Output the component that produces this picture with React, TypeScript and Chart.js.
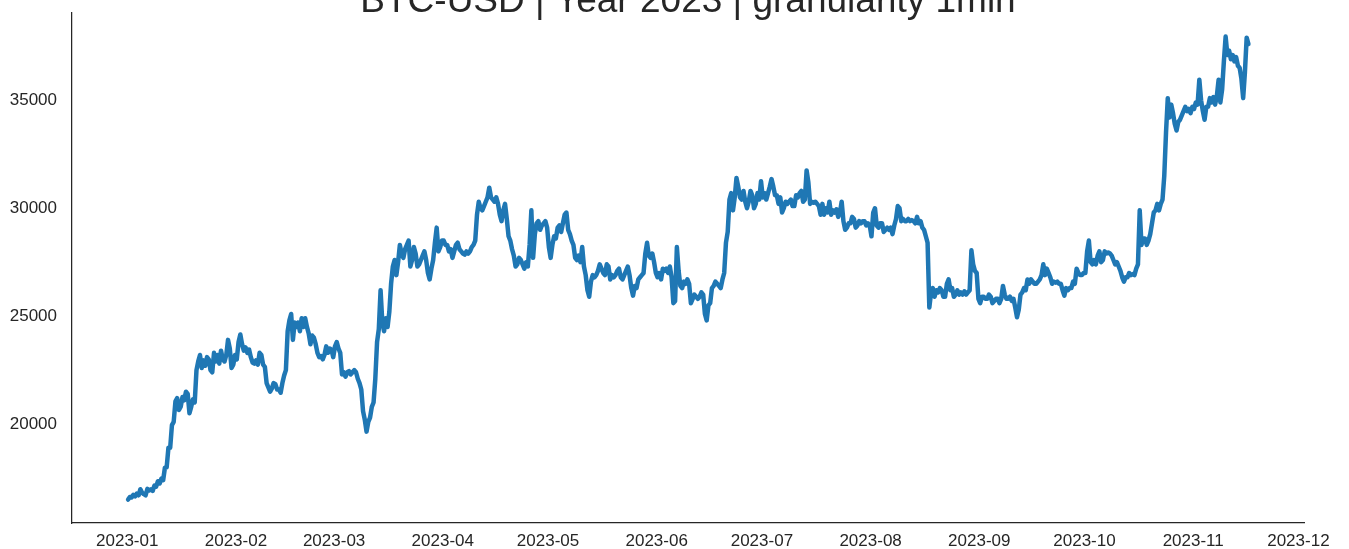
import React, { useEffect, useRef } from 'react';
import { Chart, registerables } from 'chart.js';

Chart.register(...registerables);

const TITLE = 'BTC-USD | Year 2023 | granularity 1min';
const monthLabels = ['2023-01', '2023-02', '2023-03', '2023-04', '2023-05', '2023-06', '2023-07', '2023-08', '2023-09', '2023-10', '2023-11', '2023-12'];
const monthStartDays = [0, 31, 59, 90, 120, 151, 181, 212, 243, 273, 304, 334];
const yTickValues = [20000, 25000, 30000, 35000];

// Daily pairs of prices (two readings per day), per month
const jan = [
  [16500, 16620], [16600, 16720], [16650, 16780], [16700, 16980], [16820, 16750], [16700, 17000], [16920, 16980], [16900, 17150],
  [17100, 17350], [17250, 17480], [17400, 17980], [18000, 18900], [18900, 19950], [20100, 21050], [21200, 20650], [20800, 21250],
  [21100, 21500], [21400, 20500], [20800, 21150], [21000, 22500], [22900, 23200], [22600, 22950], [22700, 23100], [23000, 22500],
  [22400, 23300], [22900, 23200], [22800, 23400], [23000, 22900], [23200, 23900], [23500, 22600], [22750, 23200],
];
const feb = [
  [23000, 23800], [24150, 23700], [23400, 23550], [23300, 23450], [23100, 22850], [22800, 22950], [22750, 23300], [23200, 22750],
  [22650, 21900], [21700, 21500], [21650, 21900], [21850, 21600], [21600, 21450], [21900, 22250], [22500, 24300], [24800, 25100],
  [23900, 24700], [24500, 24700], [24300, 24900], [24500, 24900], [24500, 24200], [23700, 24100], [24000, 23700], [23300, 23100],
  [23150, 23000], [23200, 23600], [23300, 23500], [23450, 23100],
];
const mar = [
  [23600, 23800], [23500, 23300], [22300, 22400], [22200, 22400], [22450, 22300], [22400, 22500], [22400, 22100], [21900, 21600],
  [20600, 20200], [19650, 20100], [20300, 20800], [21000, 22100], [23800, 24400], [26200, 24700], [24300, 24900], [24500, 25200],
  [26500, 27300], [27600, 26900], [27500, 28300], [27900, 27700], [28100, 28300], [28500, 27300], [27600, 28200], [27900, 27300],
  [27400, 27600], [27800, 28000], [27600, 27000], [26700, 27200], [27600, 28400], [29100, 28000], [28200, 28500],
];
const apr = [
  [28500, 28300], [28300, 28000], [28100, 27700], [28000, 28300], [28400, 28100], [28000, 27900], [27850, 28000], [27900, 28000],
  [28200, 28300], [28500, 29700], [30300, 30000], [29900, 30100], [30300, 30500], [30950, 30500], [30400, 30300], [30500, 30200],
  [29700, 29400], [29900, 30200], [29500, 28700], [28500, 28100], [27800, 27300], [27400, 27700], [27600, 27400], [27200, 27500],
  [27300, 28300], [29900, 27700], [28800, 29300], [29400, 29000], [29200, 29300], [29400, 29100],
];
const may = [
  [28200, 27700], [28300, 28700], [28600, 29100], [29200, 28900], [29300, 29700], [29800, 29000], [28800, 28500], [28300, 27700],
  [27600, 27800], [27500, 28200], [27300, 26900], [26200, 25900], [26600, 26900], [26800, 26900], [27100, 27400], [27200, 27000],
  [26900, 27400], [27300, 26700], [26900, 26800], [26900, 27100], [27200, 26800], [26700, 26900], [27100, 27300], [26900, 26300],
  [25950, 26400], [26300, 26700], [26800, 26900], [27000, 27900], [28400, 27800], [27700, 27900], [27500, 27000],
];
const jun = [
  [26800, 27000], [26700, 27200], [27100, 27200], [27000, 27300], [26800, 25600], [25700, 28200], [27100, 26400], [26300, 26600],
  [26500, 26700], [26500, 25600], [25800, 26000], [25900, 25800], [25900, 26100], [26000, 25100], [24800, 25500], [25600, 26300],
  [26400, 26600], [26500, 26400], [26300, 26700], [27000, 28400], [28900, 30400], [30700, 29900], [30500, 31400], [31000, 30500],
  [30400, 30800], [30300, 30000], [30300, 30800], [30600, 30000], [30200, 30700], [30400, 31250],
];
const jul = [
  [30500, 30700], [30400, 30700], [31000, 31350], [31000, 30600], [30600, 30200], [30500, 29800], [30000, 30300], [30200, 30300],
  [30400, 30100], [30100, 30600], [30500, 30700], [30800, 30300], [30400, 31750], [31200, 30200], [30300, 30250], [30300, 30200],
  [30100, 29700], [30200, 29700], [30000, 29800], [30300, 29700], [29900, 29800], [29950, 29600], [29800, 30300], [29400, 29000],
  [29100, 29300], [29300, 29600], [29500, 29100], [29200, 29400], [29300, 29400], [29400, 29200], [29300, 29200],
];
const aug = [
  [28700, 29800], [30000, 29200], [29100, 29300], [29300, 28900], [29000, 29100], [29000, 29100], [28800, 29200], [29500, 30100],
  [30000, 29400], [29500, 29400], [29400, 29500], [29400, 29450], [29400, 29300], [29600, 29300], [29400, 29100], [29000, 28700],
  [28400, 25400], [26100, 26300], [25900, 26200], [26100, 26300], [26200, 25900], [25900, 26500], [26700, 26200], [26300, 25900],
  [26000, 26200], [26000, 26100], [26000, 26150], [26000, 26100], [26200, 28050], [27400, 27100], [27000, 25800],
];
const sep = [
  [25600, 25900], [25900, 25800], [25800, 26000], [25900, 25600], [25700, 25800], [25800, 25600], [25800, 26400], [26000, 25800],
  [25800, 25900], [25700, 25800], [25400, 24950], [25300, 26000], [26100, 26300], [26200, 26700], [26500, 26700], [26600, 26500],
  [26500, 26600], [26700, 26900], [27400, 26900], [27200, 27000], [26800, 26500], [26600, 26550], [26600, 26500], [26500, 26200],
  [25950, 26300], [26200, 26300], [26300, 26600], [26500, 27200], [27000, 26900], [26900, 27000],
];
const oct = [
  [27000, 28000], [28500, 27500], [27400, 27600], [27400, 27800], [28000, 27500], [27600, 28000], [27900, 27950], [27900, 27800],
  [27600, 27400], [27500, 27300], [27100, 26800], [26600, 26800], [26800, 27000], [26900, 26950], [26900, 27200], [27400, 29900],
  [28300, 28600], [28600, 28300], [28500, 28800], [29300, 29800], [29900, 30200], [29900, 30200], [30400, 31500], [33500, 35100],
  [34200, 34800], [34400, 33900], [33600, 34000], [34100, 34300], [34500, 34700], [34500, 34600], [34400, 34700],
];
const nov = [
  [34600, 34900], [34800, 35950], [35000, 34500], [34100, 34700], [34700, 35100], [34900, 35150], [34800, 35200], [35950, 34900],
  [35500, 36800], [37950, 37100], [37300, 36900], [37100, 36800], [37000, 36600], [36500, 36000], [35100, 36300], [37900, 37600],
];
const monthsData = [jan, feb, mar, apr, may, jun, jul, aug, sep, oct, nov];

const X_MIN = -15.75;
const X_MAX = 335.6;
const Y_MIN = 15416;
const Y_MAX = 39044;

const TICK_FONT = { family: '"Liberation Sans", Arial, sans-serif', size: 17 };
const INK = '#262626';

function buildPoints() {
  const pts: { x: number; y: number }[] = [];
  monthsData.forEach((m, mi) => {
    m.forEach((pair, di) => {
      const d = monthStartDays[mi] + di;
      pts.push({ x: d + 0.25, y: pair[0] });
      pts.push({ x: d + 0.75, y: pair[1] });
    });
  });
  return pts;
}

const titlePlugin = {
  id: 'cutTitle',
  afterDraw(chart: any) {
    const { ctx, chartArea } = chart;
    ctx.save();
    ctx.font = '37px "Liberation Sans", Arial, sans-serif';
    ctx.fillStyle = INK;
    ctx.textAlign = 'center';
    ctx.textBaseline = 'alphabetic';
    ctx.fillText(TITLE, (chartArea.left + chartArea.right) / 2, 12);
    ctx.restore();
  },
};

export default function App() {
  const canvasRef = useRef<HTMLCanvasElement | null>(null);

  useEffect(() => {
    if (!canvasRef.current) return;
    const chart = new Chart(canvasRef.current, {
      type: 'line',
      data: {
        datasets: [
          {
            data: buildPoints(),
            borderColor: '#1f77b4',
            backgroundColor: '#1f77b4',
            borderWidth: 4.5,
            pointRadius: 0,
            tension: 0,
            fill: false,
            borderJoinStyle: 'round',
            borderCapStyle: 'round',
          },
        ],
      },
      options: {
        animation: false,
        responsive: true,
        maintainAspectRatio: false,
        parsing: false,
        normalized: true,
        layout: { padding: { top: 13, right: 45, left: 0, bottom: 0 } },
        plugins: {
          legend: { display: false },
          tooltip: { enabled: false },
          title: { display: false },
        },
        scales: {
          x: {
            type: 'linear',
            min: X_MIN,
            max: X_MAX,
            grid: { display: false, drawTicks: false },
            border: { display: true, color: INK, width: 1.25 },
            afterBuildTicks: (scale: any) => {
              scale.ticks = monthStartDays.map((v) => ({ value: v }));
            },
            afterFit: (scale: any) => {
              scale.height = 26;
            },
            ticks: {
              font: TICK_FONT,
              color: INK,
              padding: 8,
              maxRotation: 0,
              autoSkip: false,
              callback: (_v: any, i: number) => monthLabels[i],
            },
          },
          y: {
            type: 'linear',
            min: Y_MIN,
            max: Y_MAX,
            grid: { display: false, drawTicks: false },
            border: { display: true, color: INK, width: 1.25 },
            afterBuildTicks: (scale: any) => {
              scale.ticks = yTickValues.map((v) => ({ value: v }));
            },
            afterFit: (scale: any) => {
              scale.width = 72;
              scale.paddingTop = 0;
              scale.paddingBottom = 0;
            },
            ticks: {
              font: TICK_FONT,
              color: INK,
              padding: 15,
              callback: (v: any) => String(v),
            },
          },
        },
      },
      plugins: [titlePlugin],
    });
    return () => chart.destroy();
  }, []);

  return (
    <div style={{ position: 'fixed', left: 0, top: 0, width: 1349, height: 549, background: '#fff' }}>
      <canvas ref={canvasRef} />
    </div>
  );
}
